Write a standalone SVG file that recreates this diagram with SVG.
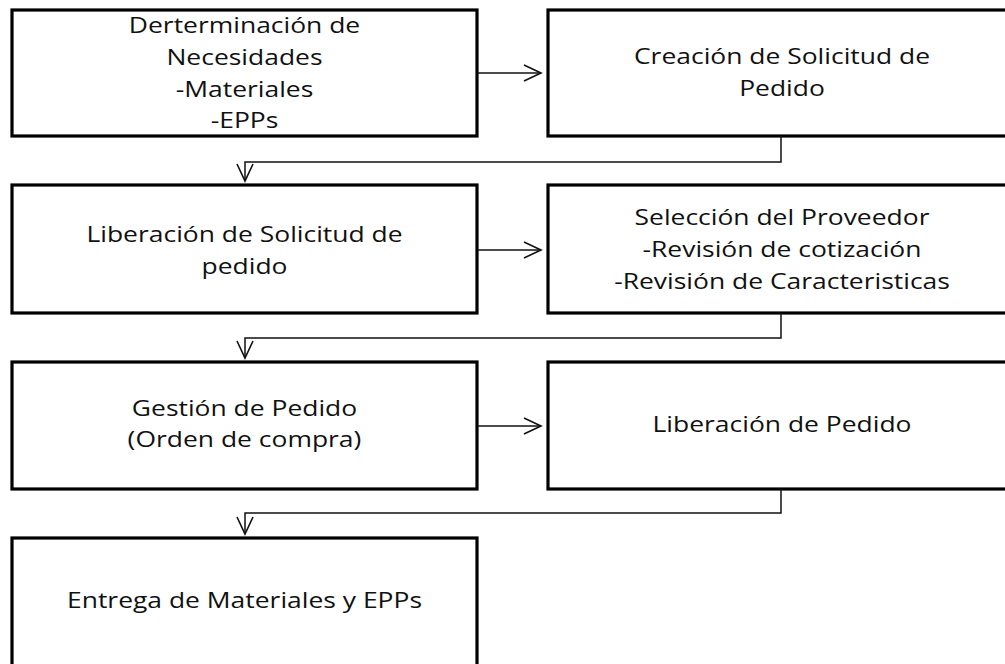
<svg xmlns="http://www.w3.org/2000/svg" width="1005" height="664" viewBox="0 0 1005 664">
<defs>
<style>
.box{fill:#fff;stroke:#000;stroke-width:3.2}
.lbl{font-family:"Open Sans","Liberation Sans",sans-serif;font-size:21px;fill:#111;text-anchor:middle}
.con{fill:none;stroke:#111;stroke-width:1.5}
</style>
<marker id="ah" viewBox="0 0 20 20" refX="18" refY="10" markerWidth="20" markerHeight="20" markerUnits="userSpaceOnUse" orient="auto">
<path d="M1,2 L18,10 L1,18" fill="none" stroke="#111" stroke-width="1.6"/>
</marker>
</defs>
<rect width="1005" height="664" fill="#fff"/>
<g id="n1"><rect class="box" x="12" y="10" width="465" height="126"/>
<text class="lbl" transform="matrix(1.26 0 0 1 244.5 0)"><tspan x="0" y="33">Derterminación de</tspan><tspan x="0" y="65">Necesidades</tspan><tspan x="0" y="97">-Materiales</tspan><tspan x="0" y="128">-EPPs</tspan></text></g>
<g id="n2"><rect class="box" x="548" y="10" width="467" height="126"/>
<text class="lbl" transform="matrix(1.26 0 0 1 782 0)"><tspan x="0" y="64">Creación de Solicitud de</tspan><tspan x="0" y="96">Pedido</tspan></text></g>
<g id="n3"><rect class="box" x="12" y="185" width="465" height="128"/>
<text class="lbl" transform="matrix(1.26 0 0 1 244.5 0)"><tspan x="0" y="242">Liberación de Solicitud de</tspan><tspan x="0" y="274">pedido</tspan></text></g>
<g id="n4"><rect class="box" x="548" y="185" width="467" height="128"/>
<text class="lbl" transform="matrix(1.26 0 0 1 782 0)"><tspan x="0" y="225">Selección del Proveedor</tspan><tspan x="0" y="257">-Revisión de cotización</tspan><tspan x="0" y="289">-Revisión de Caracteristicas</tspan></text></g>
<g id="n5"><rect class="box" x="12" y="362" width="465" height="127"/>
<text class="lbl" transform="matrix(1.26 0 0 1 244.5 0)"><tspan x="0" y="416">Gestión de Pedido</tspan><tspan x="0" y="447">(Orden de compra)</tspan></text></g>
<g id="n6"><rect class="box" x="548" y="362" width="467" height="127"/>
<text class="lbl" transform="matrix(1.26 0 0 1 782 0)" x="0" y="432">Liberación de Pedido</text></g>
<g id="n7"><rect class="box" x="12" y="538" width="465" height="140"/>
<text class="lbl" transform="matrix(1.26 0 0 1 244.5 0)" x="0" y="608">Entrega de Materiales y EPPs</text></g>
<g id="connectors">
<path class="con" d="M477,73 H541" marker-end="url(#ah)"/>
<path class="con" d="M781,136 V162 H245 V181" marker-end="url(#ah)"/>
<path class="con" d="M477,250 H541" marker-end="url(#ah)"/>
<path class="con" d="M781,313 V338 H245 V358" marker-end="url(#ah)"/>
<path class="con" d="M477,426 H541" marker-end="url(#ah)"/>
<path class="con" d="M781,489 V513 H245 V534" marker-end="url(#ah)"/>
</g>
</svg>
